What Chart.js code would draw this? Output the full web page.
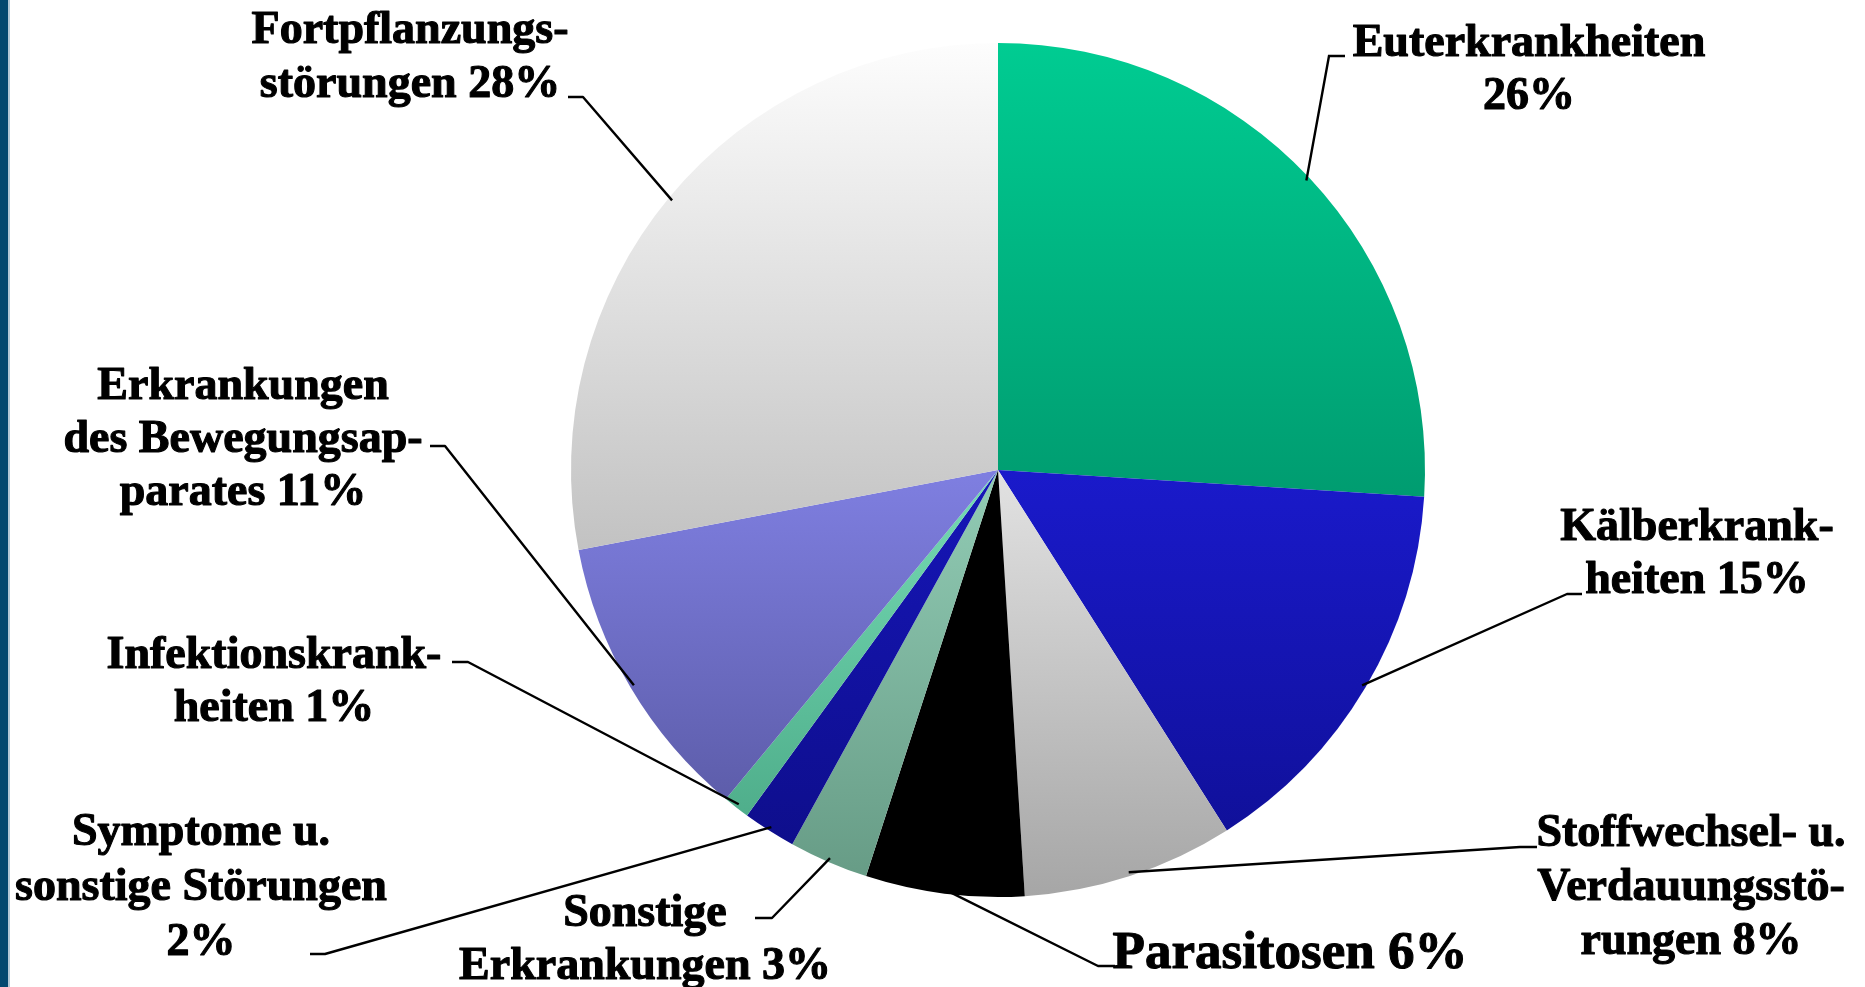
<!DOCTYPE html>
<html>
<head>
<meta charset="utf-8">
<script src="https://cdn.jsdelivr.net/npm/chart.js@4.4.1/dist/chart.umd.min.js"></script>
<style>
html, body { margin: 0; padding: 0; background: #fff; overflow: hidden; }
#wrap { position: relative; width: 1865px; height: 987px; }
#bar { position: absolute; left: 0; top: 0; width: 8px; height: 987px; background: #03496f; border-right: 2px solid #b3c9d6; }
canvas { position: absolute; left: 0; top: 0; }
</style>
</head>
<body>
<div id="wrap">
  <canvas id="myChart" width="1865" height="987"></canvas>
  <div id="bar"></div>
</div>
<script>
// categories and shares (%), clockwise from 12 o'clock
var labels = ['Euterkrankheiten', 'Kälberkrankheiten', 'Stoffwechsel- u. Verdauungsstörungen',
  'Parasitosen', 'Sonstige Erkrankungen', 'Symptome u. sonstige Störungen',
  'Infektionskrankheiten', 'Erkrankungen des Bewegungsapparates', 'Fortpflanzungsstörungen'];
var shares = [26, 15, 8, 6, 3, 2, 1, 11, 28];

// label text as broken in the original; # is replaced by the share
var labelLines = [
  ['Euterkrankheiten', '#'],
  ['Kälberkrank-', 'heiten #'],
  ['Stoffwechsel- u.', 'Verdauungsstö-', 'rungen #'],
  ['Parasitosen #'],
  ['Sonstige', 'Erkrankungen #'],
  ['Symptome u.', 'sonstige Störungen', '#'],
  ['Infektionskrank-', 'heiten #'],
  ['Erkrankungen', 'des Bewegungsap-', 'parates #'],
  ['Fortpflanzungs-', 'störungen #']
];

// gradient colours (top -> bottom) per slice
var topColors = ['#00cc92', '#1a1acb', '#e2e2e2', '#000000', '#92ccb5', '#1616b8', '#76dcb5', '#7f7fe1', '#fdfdfd'];
var bottomColors = ['#009c70', '#10109a', '#a6a6a6', '#000000', '#679c86', '#0e0e8c', '#4fae8b', '#5d5daa', '#c2c2c2'];

// label placement: centre x, first baseline, line height, font size, leader elbow and end
var labelPos = [
  { x: 1529, y: 56, lh: 53, size: 46, elbow: [1329, 56], end: [1345, 56] },
  { x: 1697, y: 540, lh: 53, size: 46, elbow: [1567, 594], end: [1582, 594] },
  { x: 1691, y: 846, lh: 54, size: 46, elbow: [1520, 847], end: [1537, 847] },
  { x: 1290, y: 968, lh: 53, size: 53, elbow: [1098, 966], end: [1115, 966] },
  { x: 645, y: 926, lh: 53, size: 46, elbow: [772, 918], end: [755, 918] },
  { x: 201, y: 845, lh: 55, size: 46, elbow: [325, 954], end: [310, 954] },
  { x: 274, y: 668, lh: 53, size: 46, elbow: [468, 662], end: [452, 662] },
  { x: 243, y: 399, lh: 53, size: 46, elbow: [445, 446], end: [430, 446] },
  { x: 410, y: 43, lh: 54, size: 46, elbow: [583, 97], end: [568, 97] }
];

function sliceFill(c) {
  var i = c.dataIndex;
  var chart = c.chart;
  var area = chart.chartArea;
  if (!area) return topColors[i];
  var cx = (area.left + area.right) / 2, cy = (area.top + area.bottom) / 2;
  var r = Math.min(area.right - area.left, area.bottom - area.top) / 2;
  var total = 0, cum = 0;
  for (var k = 0; k < shares.length; k++) { total += shares[k]; if (k < i) cum += shares[k]; }
  var a0 = -Math.PI / 2 + 2 * Math.PI * cum / total;
  var a1 = a0 + 2 * Math.PI * shares[i] / total;
  var ymin = cy, ymax = cy;
  [a0, a1, -Math.PI / 2, Math.PI / 2, 3 * Math.PI / 2].forEach(function(a, n) {
    if (n > 1 && (a < a0 || a > a1)) return;
    var y = cy + r * Math.sin(a);
    ymin = Math.min(ymin, y); ymax = Math.max(ymax, y);
  });
  var g = chart.ctx.createLinearGradient(0, ymin, 0, ymax);
  g.addColorStop(0, topColors[i]);
  g.addColorStop(1, bottomColors[i]);
  return g;
}

const leaderPlugin = {
  id: 'leaders',
  afterDatasetsDraw(chart) {
    var ctx = chart.ctx;
    var arcs = chart.getDatasetMeta(0).data;
    ctx.save();
    arcs.forEach(function(arc, i) {
      var p = arc.getProps(['x', 'y', 'startAngle', 'endAngle', 'outerRadius'], true);
      var mid = (p.startAngle + p.endAngle) / 2;
      var r = p.outerRadius - 4;
      var L = labelPos[i];
      ctx.beginPath();
      ctx.moveTo(p.x + Math.cos(mid) * r, p.y + Math.sin(mid) * r);
      ctx.lineTo(L.elbow[0], L.elbow[1]);
      ctx.lineTo(L.end[0], L.end[1]);
      ctx.lineWidth = 2.4;
      ctx.strokeStyle = '#000';
      ctx.stroke();

      // heavy bold serif like the original slide text
      ctx.font = 'bold ' + L.size + 'px "Liberation Serif", "Times New Roman", serif';
      ctx.fillStyle = '#000';
      ctx.strokeStyle = '#000';
      ctx.lineWidth = 1.1;
      ctx.lineJoin = 'round';
      ctx.textAlign = 'center';
      ctx.textBaseline = 'alphabetic';
      labelLines[i].forEach(function(t, k) {
        var s = t.replace('#', shares[i] + '%');
        ctx.fillText(s, L.x, L.y + k * L.lh);
        ctx.strokeText(s, L.x, L.y + k * L.lh);
      });
    });
    ctx.restore();
  }
};

const data = {
  labels: labels,
  datasets: [{
    data: shares,
    backgroundColor: sliceFill,
    borderWidth: 0,
    hoverOffset: 0,
    offset: 0
  }]
};

const config = {
  type: 'pie',
  data: data,
  options: {
    responsive: false,
    animation: false,
    events: [],
    layout: { padding: { left: 571, right: 440, top: 43, bottom: 90 } },
    plugins: {
      legend: { display: false },
      title: { display: false },
      tooltip: { enabled: false }
    }
  },
  plugins: [leaderPlugin]
};

var ctx = document.getElementById('myChart').getContext('2d');
var myChart = new Chart(ctx, config);
</script>
</body>
</html>
